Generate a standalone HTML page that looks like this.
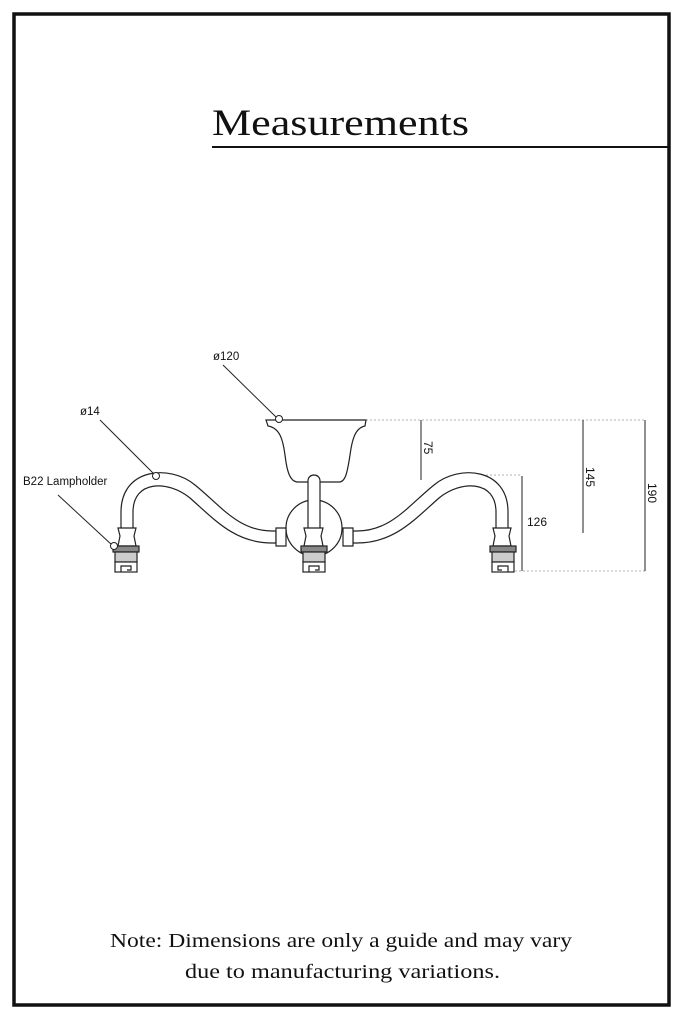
<!DOCTYPE html>
<html><head><style>
html,body{margin:0;padding:0;background:#fff;}
svg{display:block;}
</style></head><body>
<svg width="682" height="1024" viewBox="0 0 682 1024" xmlns="http://www.w3.org/2000/svg">
<rect x="14" y="14" width="655" height="991" fill="none" stroke="#111" stroke-width="3.5"/>
<text x="212" y="135" font-family="Liberation Serif, serif" font-size="37" fill="#111" textLength="257" lengthAdjust="spacingAndGlyphs">Measurements</text>
<line x1="212" y1="147" x2="668" y2="147" stroke="#111" stroke-width="2"/>

<g font-family="Liberation Sans, sans-serif" font-size="11.5" fill="#111">
<text x="213" y="360">ø120</text>
<text x="80" y="415">ø14</text>
<text x="23" y="485">B22 Lampholder</text>
<text x="527" y="526" font-size="12">126</text>
<text transform="translate(424,441) rotate(90)" font-size="12">75</text>
<text transform="translate(586,467) rotate(90)" font-size="12">145</text>
<text transform="translate(648,483) rotate(90)" font-size="12">190</text>
</g>

<g stroke="#222" stroke-width="1" fill="none">
<line x1="223" y1="365" x2="277" y2="418"/>
<line x1="100" y1="420" x2="154" y2="474"/>
<line x1="58" y1="495" x2="112" y2="545"/>
</g>
<g stroke="#999" stroke-width="0.8" stroke-dasharray="2,2" fill="none">
<line x1="366" y1="420" x2="645" y2="420"/>
<line x1="515" y1="571" x2="645" y2="571"/>
<line x1="478" y1="475" x2="522" y2="475"/>
</g>
<g stroke="#222" stroke-width="1" fill="none">
<line x1="421" y1="420" x2="421" y2="480"/>
<line x1="583" y1="420" x2="583" y2="533"/>
<line x1="645" y1="420" x2="645" y2="571"/>
<line x1="522" y1="476" x2="522" y2="571"/>
</g>

<g stroke="#222" stroke-width="1.2" fill="#fff">
<path d="M266,420 L366,420 L365,426 C355,428 352,440 350,455 C347,475 345,481 340,482 L297,482 C290,481 287,472 285,455 C283,440 280,428 268,426 Z"/>
<circle cx="314" cy="528" r="28"/>
<path d="M308,545 L308,481 C308,473 320,473 320,481 L320,545"/>
<g id="arm">
<path d="M121,546 L121,512 C121,468 170,464 195,485 C220,505 238,531 272,531 L276,531 L276,543 L272,543 C235,543 215,520 190,498 C168,480 133,480 133,512 L133,546 Z"/>
<path d="M276,528 L286,528 L286,546 L276,546 Z"/>
<path d="M118,528 L136,528 L134,536 L136,546 L118,546 L120,536 Z"/>
<rect x="113" y="546" width="26" height="6" fill="#888"/>
<rect x="115" y="552" width="22" height="10" fill="#ccc"/>
<rect x="115" y="562" width="22" height="10"/>
<path d="M121,572 L121,566 L131,566 L131,570 L127,570" fill="none"/>
</g>
<use href="#arm" transform="translate(629,0) scale(-1,1)"/>
<path d="M304,528 L323,528 L321,536 L323,546 L304,546 L306,536 Z"/>
<rect x="301" y="546" width="26" height="6" fill="#888"/>
<rect x="303" y="552" width="22" height="10" fill="#ccc"/>
<rect x="303" y="562" width="22" height="10"/>
<path d="M309,572 L309,566 L319,566 L319,570 L315,570" fill="none"/>
</g>
<g fill="#fff" stroke="#222" stroke-width="1">
<circle cx="279" cy="419" r="3.5"/>
<circle cx="156" cy="476" r="3.5"/>
<circle cx="114" cy="546" r="3.5"/>
</g>

<g font-family="Liberation Serif, serif" font-size="20" fill="#111">
<text x="110" y="947" textLength="462" lengthAdjust="spacingAndGlyphs">Note: Dimensions are only a guide and may vary</text>
<text x="185" y="978" textLength="315" lengthAdjust="spacingAndGlyphs">due to manufacturing variations.</text>
</g>
</svg>
</body></html>
